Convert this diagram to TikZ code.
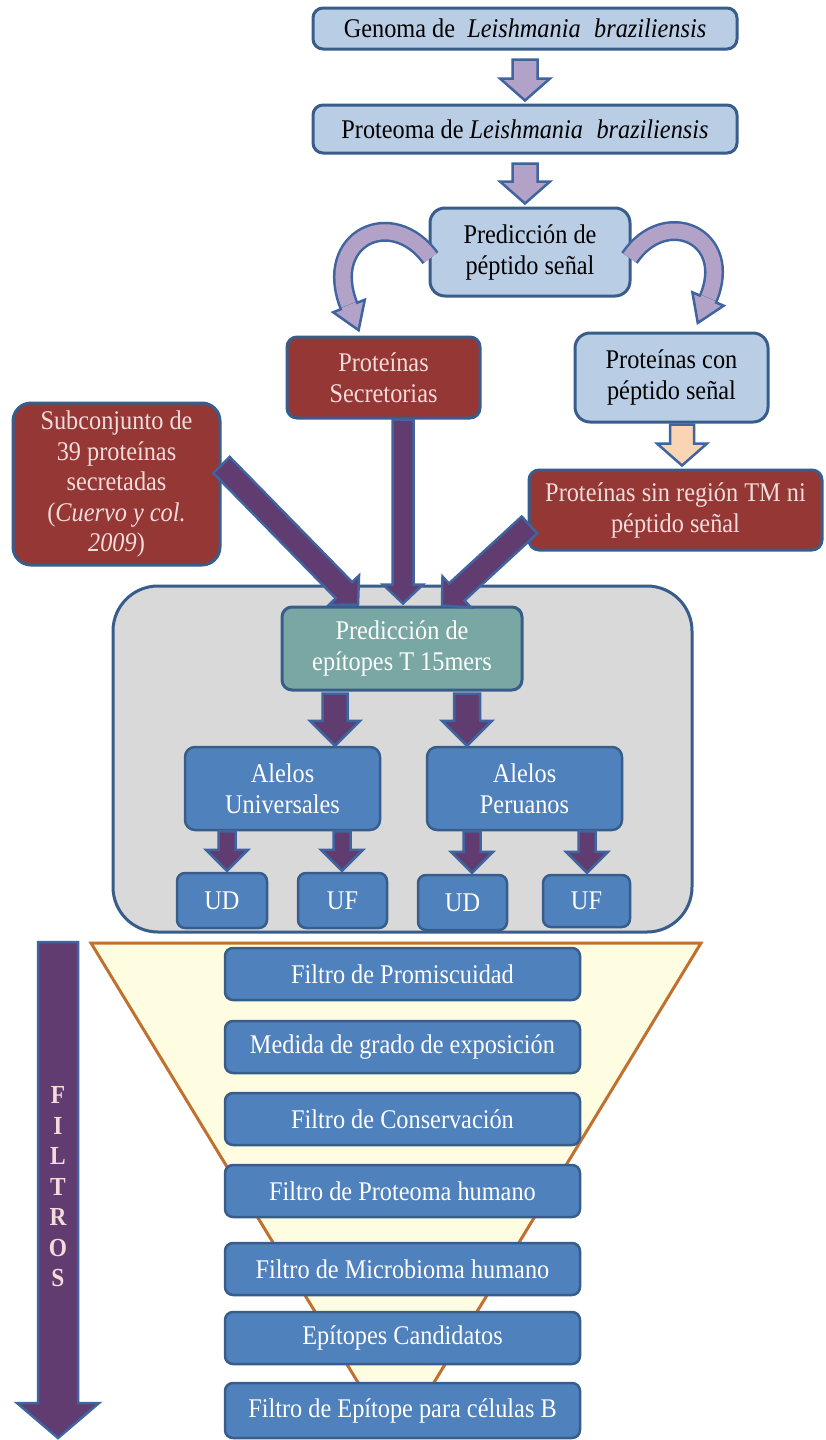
\documentclass[tikz,border=0pt]{standalone}
\usepackage{fontspec}
\setmainfont{Liberation Serif}[FakeStretch=0.9]
\usetikzlibrary{calc}
\definecolor{lb}{HTML}{B9CDE5}
\definecolor{bd}{HTML}{385D8A}
\definecolor{dred}{HTML}{953735}
\definecolor{pinkt}{HTML}{F2DCDB}
\definecolor{gry}{HTML}{D9D9D9}
\definecolor{tealb}{HTML}{79A7A3}
\definecolor{blu}{HTML}{4F81BD}
\definecolor{lpur}{HTML}{B3A2C7}
\definecolor{dpur}{HTML}{603C70}
\definecolor{arrbd}{HTML}{3F64A0}
\definecolor{peach}{HTML}{FBD4B4}
\definecolor{funfill}{HTML}{FFFDE1}
\definecolor{fundraw}{HTML}{C0702F}

% #1 style, #2 start, #3 end, #4 shaft half width, #5 head half width, #6 head length
\newcommand\blockarrow[6]{%
  \coordinate (ba-S) at #2;
  \coordinate (ba-T) at #3;
  \coordinate (ba-B) at ($(ba-T)!#6pt!(ba-S)$);
  \filldraw[#1] ($(ba-S)!#4pt!90:(ba-T)$) -- ($(ba-B)!#4pt!-90:(ba-S)$) -- ($(ba-B)!#5pt!-90:(ba-S)$) -- (ba-T) -- ($(ba-B)!#5pt!90:(ba-S)$) -- ($(ba-B)!#4pt!90:(ba-S)$) -- ($(ba-S)!#4pt!-90:(ba-T)$) -- cycle;
}

\begin{document}
\begin{tikzpicture}[x=1pt,y=-1pt,
  base/.style={rounded corners=10pt, line width=3pt, draw=bd, inner sep=0pt, align=center, font=\fontsize{27}{31}\selectfont},
  lbbox/.style={base, fill=lb, text=black},
  redbox/.style={base, fill=dred, text=pinkt},
  bluebox/.style={base, fill=blu, text=white, line width=2.5pt},
  tealbox/.style={base, fill=tealb, text=white},
  filterbox/.style={bluebox, rounded corners=8pt, minimum width=355pt, minimum height=52pt},
  smallbox/.style={bluebox, rounded corners=8pt, minimum width=89pt, minimum height=55pt},
  lparrow/.style={fill=lpur, draw=arrbd, line width=2.5pt, line join=miter},
  dparrow/.style={fill=dpur, draw=arrbd, line width=2.5pt, line join=miter},
  pcharrow/.style={fill=peach, draw=arrbd, line width=2.5pt, line join=miter},
  grpbox/.style={draw=bd, fill=gry, line width=3pt, rounded corners=45pt, inner sep=0pt},
  funnel/.style={fill=funfill, draw=fundraw, line width=3pt, line join=miter}
]
\useasboundingbox (0,0) rectangle (825,1440);
\fill[white] (0,0) rectangle (825,1440);

% background containers
\node[grpbox, minimum width=579pt, minimum height=346pt] (grp) at (402.5,759) {};
\begin{scope}
  \clip (0,900) rectangle (825,1434);
  \filldraw[funnel] (91,943) -- (701,943) -- (396,1445) -- cycle;
\end{scope}

% top boxes
\node[lbbox, minimum width=424pt, minimum height=41pt] (genoma) at (525,28.5)
  {Genoma de\hspace{0.45em}\textit{Leishmania}\hspace{0.5em}\textit{braziliensis}};
\node[lbbox, minimum width=424pt, minimum height=48pt] (proteoma) at (525,129)
  {Proteoma de \textit{Leishmania}\hspace{0.5em}\textit{braziliensis}};
\node[lbbox, rounded corners=15pt, minimum width=200pt, minimum height=88pt] (pred) at (530,252)
  {Predicción de\\péptido señal};
\node[redbox, minimum width=193pt, minimum height=81pt] (secr) at (383.5,377.5)
  {Proteínas\\Secretorias};
\node[lbbox, rounded corners=15pt, minimum width=193pt, minimum height=89pt] (conpep) at (671.5,377.5)
  {Proteínas con\\péptido señal};
\node[redbox, minimum width=293pt, minimum height=80pt] (sinTM) at (675.5,510)
  {Proteínas sin región TM ni\\péptido señal};
\node[redbox, rounded corners=18pt, minimum width=207pt, minimum height=162pt, font=\fontsize{27}{30.5}\selectfont] (subc) at (116.5,484)
  {Subconjunto de\\39 proteínas\\secretadas\\(\textit{Cuervo y col.}\\\textit{2009})};

% inside grey container
\node[tealbox, minimum width=240pt, minimum height=83pt] (epi) at (402,648.5)
  {Predicción de\\epítopes T 15mers};
\node[bluebox, minimum width=195pt, minimum height=83pt] (alU) at (282.5,788.5)
  {Alelos\\Universales};
\node[bluebox, minimum width=195pt, minimum height=83pt] (alP) at (524.5,788.5)
  {Alelos\\Peruanos};
\node[smallbox, minimum width=90pt] (UD1) at (222,900.5) {UD};
\node[smallbox] (UF1) at (342.5,900.5) {UF};
\node[smallbox] (UD2) at (462.5,902.5) {UD};
\node[smallbox, minimum width=87pt, minimum height=52pt] (UF2) at (586.5,901) {UF};

% filter boxes
\node[filterbox] (f1) at (402.5,974) {Filtro de Promiscuidad};
\node[filterbox] (f2) at (402.5,1047) {Medida de grado de exposición};
\node[filterbox] (f3) at (402.5,1119) {Filtro de Conservación};
\node[filterbox] (f4) at (402.5,1191) {Filtro de Proteoma humano};
\node[filterbox] (f5) at (402.5,1269) {Filtro de Microbioma humano};
\node[filterbox] (f6) at (402.5,1338) {Epítopes Candidatos};
\node[filterbox, minimum height=55pt] (f7) at (402.5,1410.5) {Filtro de Epítope para células B};

% top straight arrows
\blockarrow{lparrow}{($(genoma.south)+(0,9)$)}{($(proteoma.north)+(0,-3)$)}{12.5}{25}{22}
\blockarrow{lparrow}{($(proteoma.south)+(0,9)$)}{($(proteoma.south |- pred.north)+(0,-3)$)}{12.5}{25}{22}

% curved arrows
\coordinate (lS) at ($(pred.west)+(2,6)$);
\coordinate (lc1) at (392,205);
\coordinate (lc2) at (322,238);
\coordinate (lE) at (349,306);
\coordinate (lT) at ($(lE)!-26pt!(lc2)$);
\draw[line width=20pt, arrbd] (lS) .. controls (lc1) and (lc2) .. (lE);
\draw[line width=15pt, lpur] (lS) .. controls (lc1) and (lc2) .. (lE);
\filldraw[lparrow] ($(lE)!17pt!90:(lT)$) -- (lT) -- ($(lE)!17pt!-90:(lT)$) -- cycle;
\draw[line width=15pt, lpur] ($(lE)!-1pt!(lT)$) -- ($(lE)!3pt!(lT)$);

\coordinate (rS) at ($(pred.east)+(-2,6)$);
\coordinate (rc1) at (665,205);
\coordinate (rc2) at (735,236);
\coordinate (rE) at (708,299);
\coordinate (rT) at ($(rE)!-26pt!(rc2)$);
\draw[line width=20pt, arrbd] (rS) .. controls (rc1) and (rc2) .. (rE);
\draw[line width=15pt, lpur] (rS) .. controls (rc1) and (rc2) .. (rE);
\filldraw[lparrow] ($(rE)!17pt!90:(rT)$) -- (rT) -- ($(rE)!17pt!-90:(rT)$) -- cycle;
\draw[line width=15pt, lpur] ($(rE)!-1pt!(rT)$) -- ($(rE)!3pt!(rT)$);

% orange arrow
\blockarrow{pcharrow}{($(conpep.south)+(10.5,1)$)}{($(sinTM.north)+(6.5,-3)$)}{12}{25}{22}

% arrows into epitope prediction
\blockarrow{dparrow}{($(subc.east)+(0,-19)$)}{($(epi.north)+(-44,-1)$)}{11.5}{21}{20}
\blockarrow{dparrow}{($(secr.south)+(19.5,0)$)}{($(epi.north)+(1,-2)$)}{10.5}{20}{19}
\blockarrow{dparrow}{($(sinTM.west)+(2,15)$)}{($(epi.north)+(40,0)$)}{11.5}{21}{20}

% arrows inside grey container
\blockarrow{dparrow}{($(epi.south)+(-67,2)$)}{($(alU.north)+(52.5,0)$)}{12.5}{25}{25}
\blockarrow{dparrow}{($(epi.south)+(65,2)$)}{($(alP.north)+(-57.5,0)$)}{13}{25}{25}
\blockarrow{dparrow}{($(alU.south)+(-55.5,0)$)}{($(UD1.north)+(5,-1)$)}{8.5}{21}{21}
\blockarrow{dparrow}{($(alU.south)+(59.5,0)$)}{($(UF1.north)+(-0.5,-1)$)}{8.5}{21}{21}
\blockarrow{dparrow}{($(alP.south)+(-52.5,0)$)}{($(UD2.north)+(9.5,-1)$)}{8.5}{21}{21}
\blockarrow{dparrow}{($(alP.south)+(62.5,0)$)}{($(UF2.north)+(0.5,-1)$)}{8.5}{21}{21}

% FILTROS arrow
\coordinate (ftop) at (58,942);
\coordinate (fbot) at (58,1438);
\blockarrow{dparrow}{(ftop)}{(fbot)}{20}{41}{35}
\node[text=pinkt, align=center, inner sep=0pt, font=\bfseries\fontsize{26}{30.5}\selectfont] (filtros) at (58,1187) {F\\I\\L\\T\\R\\O\\S};

\end{tikzpicture}
\end{document}
